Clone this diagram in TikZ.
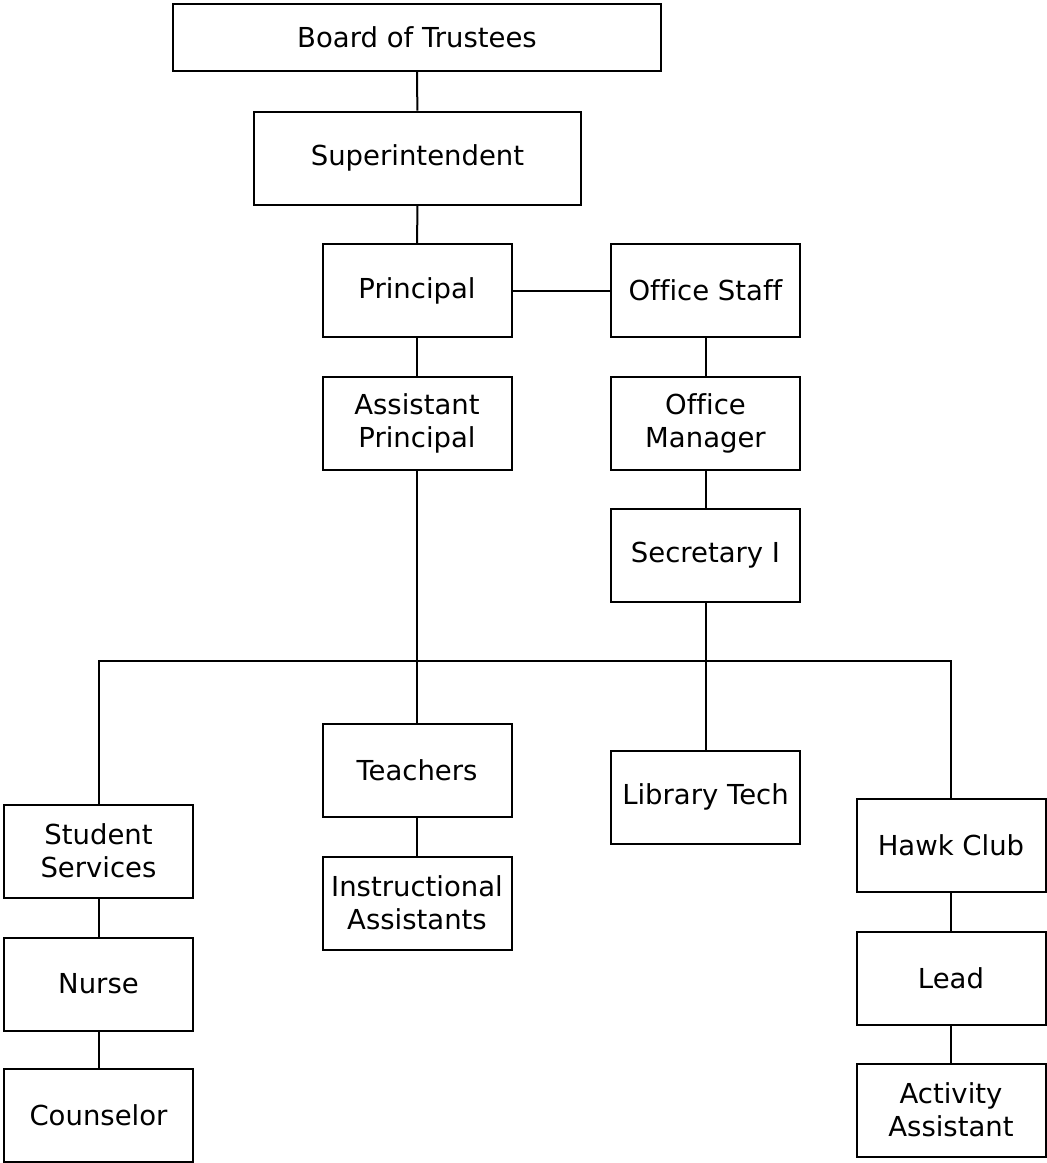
\documentclass[tikz,border=0pt]{standalone}
\usepackage{fontspec}
\setmainfont{DejaVu Sans}[Ligatures=NoCommon]
\begin{document}
\begin{tikzpicture}[x=1pt,y=-1pt,
  box/.style={draw, line width=2pt, inner sep=0pt, align=center,
    font=\fontsize{27.5}{33}\selectfont, minimum height=93pt, minimum width=189pt},
  link/.style={line width=2pt}]
\useasboundingbox (0,0) rectangle (1047,1163);
\node[box, minimum width=488pt, minimum height=67pt] (bot) at (417,37.5) {Board of Trustees};
\node[box, minimum width=327pt] (sup) at (417.5,158) {Superintendent};
\node[box] (pri) at (417,290.5) {Principal};
\node[box] (ofs) at (705.5,290.5) {Office Staff};
\node[box] (ap) at (417,423) {Assistant\\Principal};
\node[box] (om) at (705.5,423) {Office\\Manager};
\node[box] (sec) at (705.5,555.5) {Secretary I};
\node[box] (tea) at (417,770) {Teachers};
\node[box] (ia) at (417,903) {Instructional\\Assistants};
\node[box] (lib) at (705.5,797) {Library Tech};
\node[box] (ss) at (98.5,851) {Student\\Services};
\node[box] (nur) at (98.5,984) {Nurse};
\node[box] (cou) at (98.5,1115.5) {Counselor};
\node[box] (hc) at (951,845.5) {Hawk Club};
\node[box] (lead) at (951,978) {Lead};
\node[box] (aa) at (951,1110) {Activity\\Assistant};
\coordinate (bus) at (0,661);
\draw[link] (bot) -- (sup);
\draw[link] (sup) -- (pri);
\draw[link] (pri) -- (ofs);
\draw[link] (pri) -- (ap);
\draw[link] (ofs) -- (om);
\draw[link] (om) -- (sec);
\draw[link] (ap) -- (tea);
\draw[link] (sec) -- (lib);
\draw[link] (tea) -- (ia);
\draw[link] (ss.north) -- (ss.north |- bus) -- (hc.north |- bus) -- (hc.north);
\draw[link] (ss) -- (nur);
\draw[link] (nur) -- (cou);
\draw[link] (hc) -- (lead);
\draw[link] (lead) -- (aa);
\end{tikzpicture}
\end{document}
